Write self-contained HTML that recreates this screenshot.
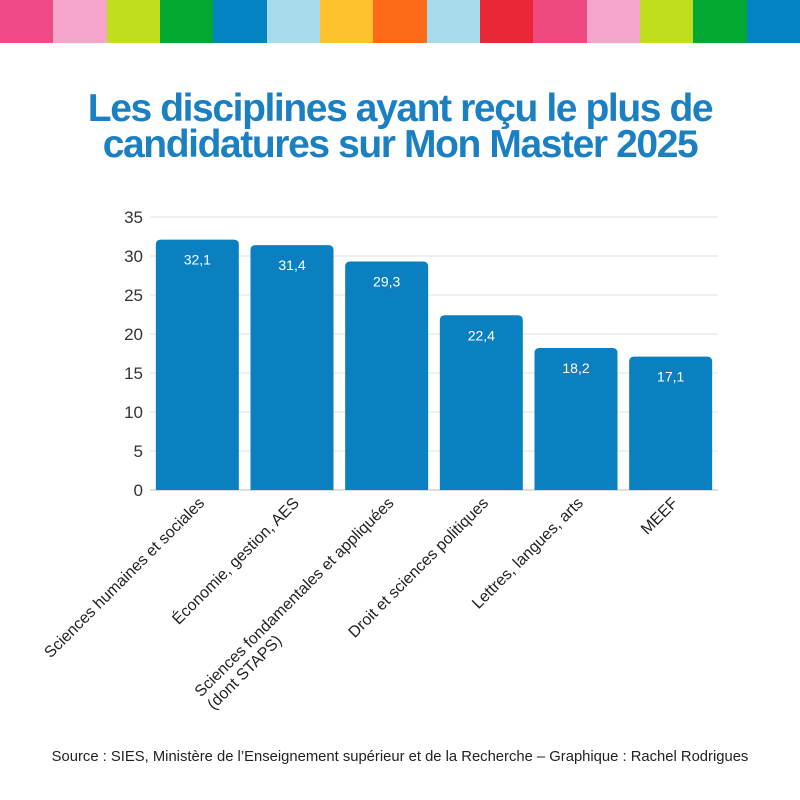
<!DOCTYPE html>
<html><head><meta charset="utf-8"><style>
body{margin:0;width:800px;height:800px;background:#fff;font-family:"Liberation Sans",sans-serif;overflow:hidden;position:relative}
#strip{position:absolute;left:0;top:0;width:800px;height:43px;display:flex}
#strip div{flex:1}
h1{position:absolute;top:91px;left:0;width:800px;margin:0;text-align:center;color:#1a80c2;font-size:39px;line-height:36px;letter-spacing:-1.4px;font-weight:bold}
#src{position:absolute;top:749px;left:0;width:800px;text-align:center;font-size:14.8px;color:#222}
</style></head><body>
<div id="strip">
<div style="background:#ef4a87"></div><div style="background:#f7a6cb"></div><div style="background:#c1dd1d"></div><div style="background:#03a833"></div><div style="background:#0483c2"></div><div style="background:#a6dcea"></div><div style="background:#fec22e"></div><div style="background:#fd6b18"></div><div style="background:#a6dcea"></div><div style="background:#eb2636"></div><div style="background:#ee4a7f"></div><div style="background:#f7a6cb"></div><div style="background:#c1dd1d"></div><div style="background:#03a833"></div><div style="background:#0483c2"></div>
</div>
<h1>Les disciplines ayant reçu le plus de<br>candidatures sur Mon Master 2025</h1>
<svg id="chart" width="800" height="800" style="position:absolute;left:0;top:0"></svg>
<div id="src">Source : SIES, Ministère de l’Enseignement supérieur et de la Recherche – Graphique : Rachel Rodrigues</div>
<script>
const categories=["Sciences humaines et sociales","Économie, gestion, AES","Sciences fondamentales et appliquées|(dont STAPS)","Droit et sciences politiques","Lettres, langues, arts","MEEF"];
const values=[32.1,31.4,29.3,22.4,18.2,17.1];
const valueLabels=["32,1","31,4","29,3","22,4","18,2","17,1"];
const ticks=[0,5,10,15,20,25,30,35];
const NS="http://www.w3.org/2000/svg";
const svg=document.getElementById('chart');
const x0=150,x1=718,y0=490,yTop=217,yMax=35;
const y=v=>y0-(v/yMax)*(y0-yTop);
const step=(x1-x0)/categories.length,bw=83;
const xc=i=>x0+step*(i+0.5);
function mk(t,a,p){const e=document.createElementNS(NS,t);for(const k in a)e.setAttribute(k,a[k]);(p||svg).appendChild(e);return e;}
ticks.forEach(t=>{
 const g=mk('line',{x1:x0,x2:x1,y1:y(t),y2:y(t),stroke:t===0?'#bbb':'#e2e2e2','stroke-width':1});
 
 
 const l=mk('text',{x:143,y:y(t)+6,'text-anchor':'end','font-size':17,fill:'#333','font-family':'Liberation Sans, sans-serif'});
 l.textContent=t;
 
 
});
values.forEach((v,i)=>{
 const cx=xc(i),top=y(v),r=5,l=cx-bw/2,rr=cx+bw/2;
 const p=mk('path',{d:`M${l},${y0}V${top+r}Q${l},${top} ${l+r},${top}H${rr-r}Q${rr},${top} ${rr},${top+r}V${y0}Z`,fill:'#0a80c1'});
 
 
 const t=mk('text',{x:cx,y:top+25,'text-anchor':'middle','font-size':14,fill:'#fff','font-family':'Liberation Sans, sans-serif'});
 t.textContent=valueLabels[i];
 
 
 const lines=categories[i].split('|');
 const g=mk('g',{transform:`translate(${cx+8},${y0+14}) rotate(-45)`});
 
 
 let w1=0;
 lines.forEach((s,j)=>{
  const ts=mk('text',{x:0,y:j*18,'text-anchor':j===0?'end':'start','font-size':16,fill:'#222','font-family':'Liberation Sans, sans-serif'},g);
  ts.textContent=s;
  if(j===0)w1=ts.getComputedTextLength();else ts.setAttribute('x',-w1);
 });
});
</script>
</body></html>
